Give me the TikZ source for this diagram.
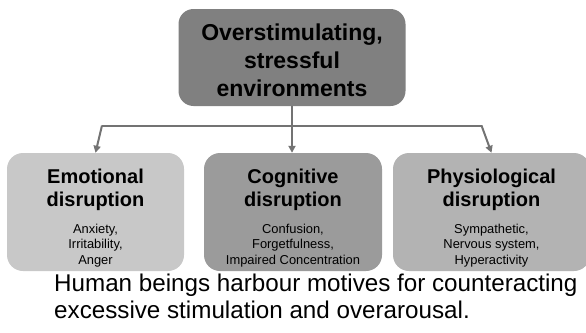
\documentclass[tikz,border=0pt]{standalone}
\usepackage{fontspec}
\setmainfont{Liberation Sans}
\usetikzlibrary{arrows.meta}
\definecolor{topgray}{HTML}{808080}
\definecolor{emogray}{HTML}{C8C8C8}
\definecolor{coggray}{HTML}{9B9B9B}
\definecolor{phygray}{HTML}{B3B3B3}
\definecolor{conncol}{HTML}{737373}
\begin{document}
\begin{tikzpicture}[x=1pt,y=-1pt,
  box/.style={rectangle, rounded corners=16pt, inner sep=0pt, draw=none},
  conn/.style={draw=conncol, line width=2pt},
  arr/.style={conn, -{Triangle[length=7pt,width=7pt]}},
  txt/.style={inner sep=0pt, anchor=base, text=black}
]
\useasboundingbox (0,0) rectangle (586,332);
% boxes
\node[box, rounded corners=15pt, fill=topgray, minimum width=227pt, minimum height=97pt] (top) at (292,57.5) {};
\node[box, fill=emogray, minimum width=177pt, minimum height=118pt] (emo) at (95.5,212) {};
\node[box, fill=coggray, minimum width=178pt, minimum height=118pt] (cog) at (293,212) {};
\node[box, fill=phygray, minimum width=197pt, minimum height=118pt] (phy) at (491.5,212) {};
% texts
\node[txt] (toptext) at (top.center |- 0,40) {\vtop{\hsize=227pt\parindent=0pt\centering\fontsize{23}{28.4}\selectfont\bfseries Overstimulating,\par stressful\par environments\par}};
\node[txt] (emotext) at (emo.center |- 0,183) {\vtop{\hsize=177pt\parindent=0pt\centering\fontsize{20}{23}\selectfont\bfseries Emotional\par disruption\par\vspace{11.3pt}\fontsize{12.9}{15.7}\selectfont\mdseries Anxiety,\par Irritability,\par Anger\par}};
\node[txt] (cogtext) at (cog.center |- 0,183) {\vtop{\hsize=178pt\parindent=0pt\centering\fontsize{20}{23}\selectfont\bfseries Cognitive\par disruption\par\vspace{11.3pt}\fontsize{12.9}{15.7}\selectfont\mdseries Confusion,\par Forgetfulness,\par Impaired Concentration\par}};
\node[txt] (phytext) at (phy.center |- 0,183) {\vtop{\hsize=197pt\parindent=0pt\centering\fontsize{20}{23}\selectfont\bfseries Physiological\par disruption\par\vspace{11.3pt}\fontsize{12.9}{15.7}\selectfont\mdseries Sympathetic,\par Nervous system,\par Hyperactivity\par}};
\node[txt, anchor=base west] (caption) at (54,291.5) {\vtop{\hsize=540pt\parindent=0pt\raggedright\fontsize{24.2}{26.5}\selectfont Human beings harbour motives for counteracting\par excessive stimulation and overarousal.\par}};
% connectors
\coordinate (jl) at (102,125.5);
\coordinate (jr) at (481.5,125.5);
\draw[conn] (jl) -- (jr);
\draw[arr] (top.south) -- (top.south |- cog.north);
\draw[arr] (jl) -- (emo.north);
\draw[arr] (jr) -- (phy.north);
\end{tikzpicture}
\end{document}
